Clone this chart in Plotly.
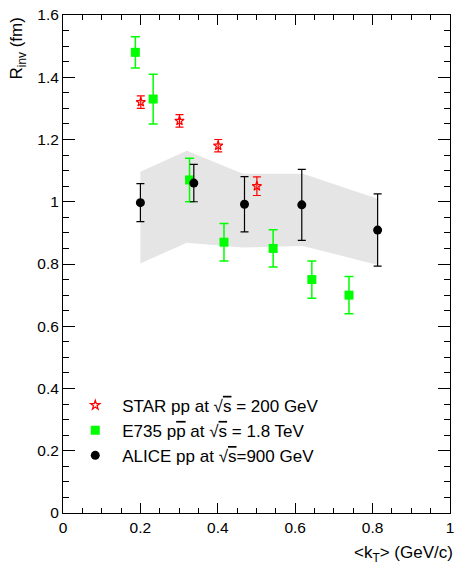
import plotly.graph_objects as go

# STAR pp at sqrt(s)=200 GeV
star_kt = [0.201, 0.301, 0.401, 0.501]
star_r = [1.320, 1.260, 1.180, 1.050]
star_err = [0.02, 0.02, 0.02, 0.03]

# E735 ppbar at sqrt(s)=1.8 TeV
e735_kt = [0.187, 0.233, 0.327, 0.416, 0.543, 0.643, 0.739]
e735_r = [1.48, 1.33, 1.07, 0.87, 0.85, 0.75, 0.70]
e735_err = [0.05, 0.08, 0.07, 0.06, 0.06, 0.06, 0.06]

# ALICE pp at sqrt(s)=900 GeV
alice_kt = [0.200, 0.338, 0.469, 0.617, 0.813]
alice_r = [0.997, 1.060, 0.992, 0.990, 0.909]
alice_err = [0.061, 0.060, 0.089, 0.114, 0.116]

# systematic band
band_kt = [0.200, 0.320, 0.465, 0.620, 0.813]
band_hi = [1.096, 1.164, 1.090, 1.090, 1.010]
band_lo = [0.802, 0.868, 0.853, 0.858, 0.797]

FONT = "Liberation Sans, Arial, Helvetica, sans-serif"
OV = "<span style='text-decoration:overline'>{}</span>"

fig = go.Figure()

fig.add_trace(go.Scatter(
    x=band_kt + band_kt[::-1], y=band_hi + band_lo[::-1],
    fill="toself", fillcolor="rgb(229,229,229)", mode="lines",
    line=dict(width=0, color="rgb(229,229,229)"),
    showlegend=False, hoverinfo="skip"))

fig.add_trace(go.Scatter(
    x=star_kt, y=star_r, mode="markers",
    name="STAR pp at √" + OV.format("s") + " = 200 GeV",
    marker=dict(symbol="star-open", size=7, color="red", line=dict(color="red", width=1.2)),
    error_y=dict(type="data", array=star_err, color="red", thickness=1.2, width=4)))

fig.add_trace(go.Scatter(
    x=e735_kt, y=e735_r, mode="markers",
    name="E735 p" + OV.format("p") + " at √" + OV.format("s") + " = 1.8 TeV",
    marker=dict(symbol="square", size=9, color="#00ff00"),
    error_y=dict(type="data", array=e735_err, color="#00ff00", thickness=1.5, width=4.5)))

fig.add_trace(go.Scatter(
    x=alice_kt, y=alice_r, mode="markers",
    name="ALICE pp at √" + OV.format("s") + "=900 GeV",
    marker=dict(symbol="circle", size=9, color="black"),
    error_y=dict(type="data", array=alice_err, color="black", thickness=1.2, width=4)))

axis_common = dict(
    showline=True, linecolor="black", linewidth=1, mirror="allticks",
    ticks="inside", ticklen=10, tickwidth=1, tickcolor="black",
    showgrid=False, zeroline=False,
    tickfont=dict(family=FONT, size=15.5, color="black"),
    minor=dict(ticks="inside", ticklen=5, tickwidth=1, tickcolor="black", dtick=0.05, showgrid=False),
)

fig.update_xaxes(range=[0, 1], dtick=0.2, tick0=0, ticklabeloverflow="allow", **axis_common)
fig.update_yaxes(range=[0, 1.6], dtick=0.2, tick0=0, **axis_common)
fig.update_yaxes(ticklen=12, minor_ticklen=6)

fig.update_layout(
    width=455, height=564,
    margin=dict(l=63, r=1, t=15, b=51),
    paper_bgcolor="white", plot_bgcolor="white",
    font=dict(family=FONT, size=15, color="black"),
    showlegend=True,
    legend=dict(x=0.0136, y=0.2518, xanchor="left", yanchor="top",
                bgcolor="rgba(0,0,0,0)", itemwidth=44,
                font=dict(family=FONT, size=17, color="black")),
    annotations=[
        dict(text="R<sub>inv</sub> (fm)", textangle=-90, xref="paper", yref="paper",
             x=-0.115, y=1, xanchor="center", yanchor="top", showarrow=False,
             font=dict(family=FONT, size=17, color="black")),
        dict(text="&lt;k<sub>T</sub>&gt; (GeV/c)", xref="paper", yref="paper",
             x=1, y=-0.082, xanchor="right", yanchor="middle", showarrow=False,
             xshift=5, font=dict(family=FONT, size=17, color="black")),
    ],
)

fig.write_html("out.html")
